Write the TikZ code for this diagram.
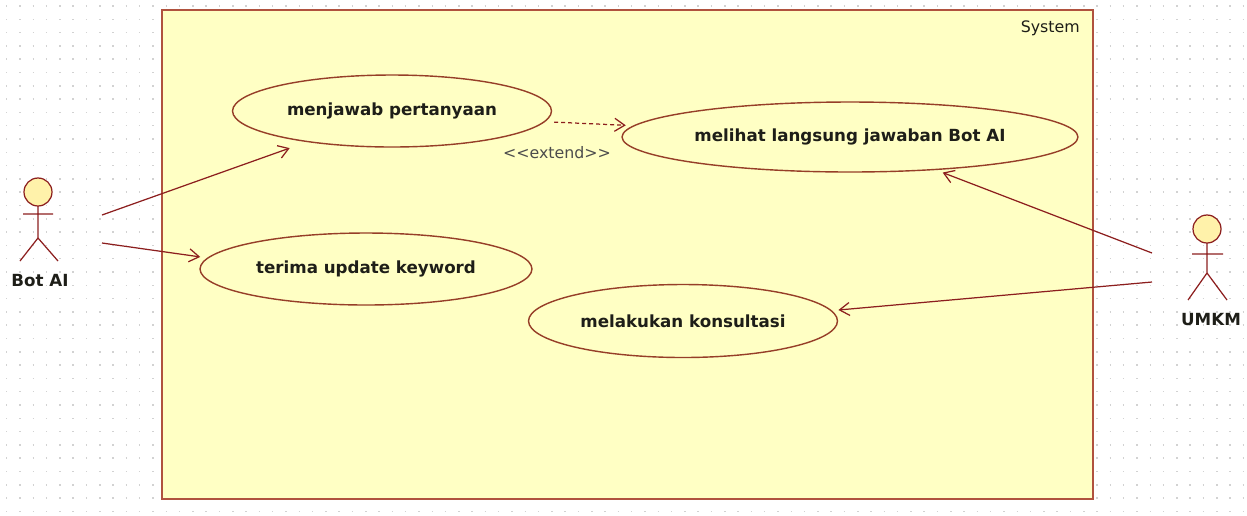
\documentclass[tikz,border=0pt]{standalone}
\usepackage{fontspec}
\setmainfont{DejaVu Sans}
\usetikzlibrary{shapes.geometric, arrows.meta}
\definecolor{sysfill}{RGB}{255,255,196}
\definecolor{sysline}{RGB}{176,82,62}
\definecolor{ucline}{RGB}{150,62,40}
\definecolor{assocline}{RGB}{140,30,30}
\definecolor{headfill}{RGB}{255,242,170}
\definecolor{dotgray}{RGB}{210,210,210}
\definecolor{txt}{RGB}{30,30,24}

\begin{document}
\begin{tikzpicture}[x=0.02cm, y=-0.02cm,
  usecase/.style={ellipse, draw=ucline, fill=sysfill, line width=0.8pt, inner sep=0pt,
    font=\bfseries\fontsize{9.5}{11}\selectfont, text=txt},
  assoc/.style={draw=assocline, line width=0.7pt, -{Straight Barb[length=0.2cm, width=0.26cm]}},
  stick/.style={draw=assocline, line width=0.7pt},
  actorname/.style={font=\bfseries\fontsize{9.5}{11}\selectfont, text=txt}]
		      \useasboundingbox (0,0) rectangle (1247,515);
		      \foreach \r in {0,...,38}
		        \draw[dotgray, line width=0.03cm, dash pattern=on 0.03cm off 0.236cm] (6,6+13.3*\r) -- (1247,6+13.3*\r);
		      \draw[sysline, fill=sysfill, line width=1.3pt] (162,10) rectangle (1093,499);
		      \node[anchor=east, font=\fontsize{9}{11}\selectfont, text=txt] (sys) at (1086,28) {System};

		      \node[usecase, minimum width=6.38cm, minimum height=1.44cm] (menjawab) at (392,111) {menjawab pertanyaan};
		      \node[usecase, minimum width=9.12cm, minimum height=1.4cm] (melihat) at (850,137) {melihat langsung jawaban Bot AI};
		      \node[usecase, minimum width=6.64cm, minimum height=1.44cm] (terima) at (366,269) {terima update keyword};
		      \node[usecase, minimum width=6.18cm, minimum height=1.46cm] (konsul) at (683,321) {melakukan konsultasi};

		      \draw[stick, fill=headfill] (38,192) circle (0.28cm);
		      \draw[stick] (38,206) -- (38,238) (23,214) -- (53,214) (20,261) -- (38,238) -- (58,261);
		      \node[actorname] (bot) at (40,281) {Bot AI};
		      \coordinate (botA) at (102,215);
		      \coordinate (botB) at (102,243);

		      \draw[stick, fill=headfill] (1207,229) circle (0.28cm);
		      \draw[stick] (1207,243) -- (1207,273) (1192,254) -- (1223,254) (1188,300) -- (1207,273) -- (1227,300);
		      \node[actorname] (umkm) at (1211,320) {UMKM};
		      \coordinate (umkmA) at (1152,253);
		      \coordinate (umkmB) at (1152,282);

		      \draw[assoc, shorten >=0.36cm] (botA) -- (menjawab.200);
		      \draw[assoc, shorten >=0.14cm] (botB) -- (terima.176);
		      \draw[assoc, shorten >=0.14cm] (umkmA) -- (melihat.-21);
		      \draw[assoc, shorten >=0.13cm] (umkmB) -- (konsul.4);
		      \draw[assoc, dash pattern=on 0.08cm off 0.06cm, shorten <=0.18cm, shorten >=0.15cm] (menjawab.-4) -- (melihat.177.5);
		      \node[font=\fontsize{9}{11}\selectfont, text=black!70] (ext) at (557,153) {<{}<extend>{}>};
	      \end{tikzpicture}
\end{document}
